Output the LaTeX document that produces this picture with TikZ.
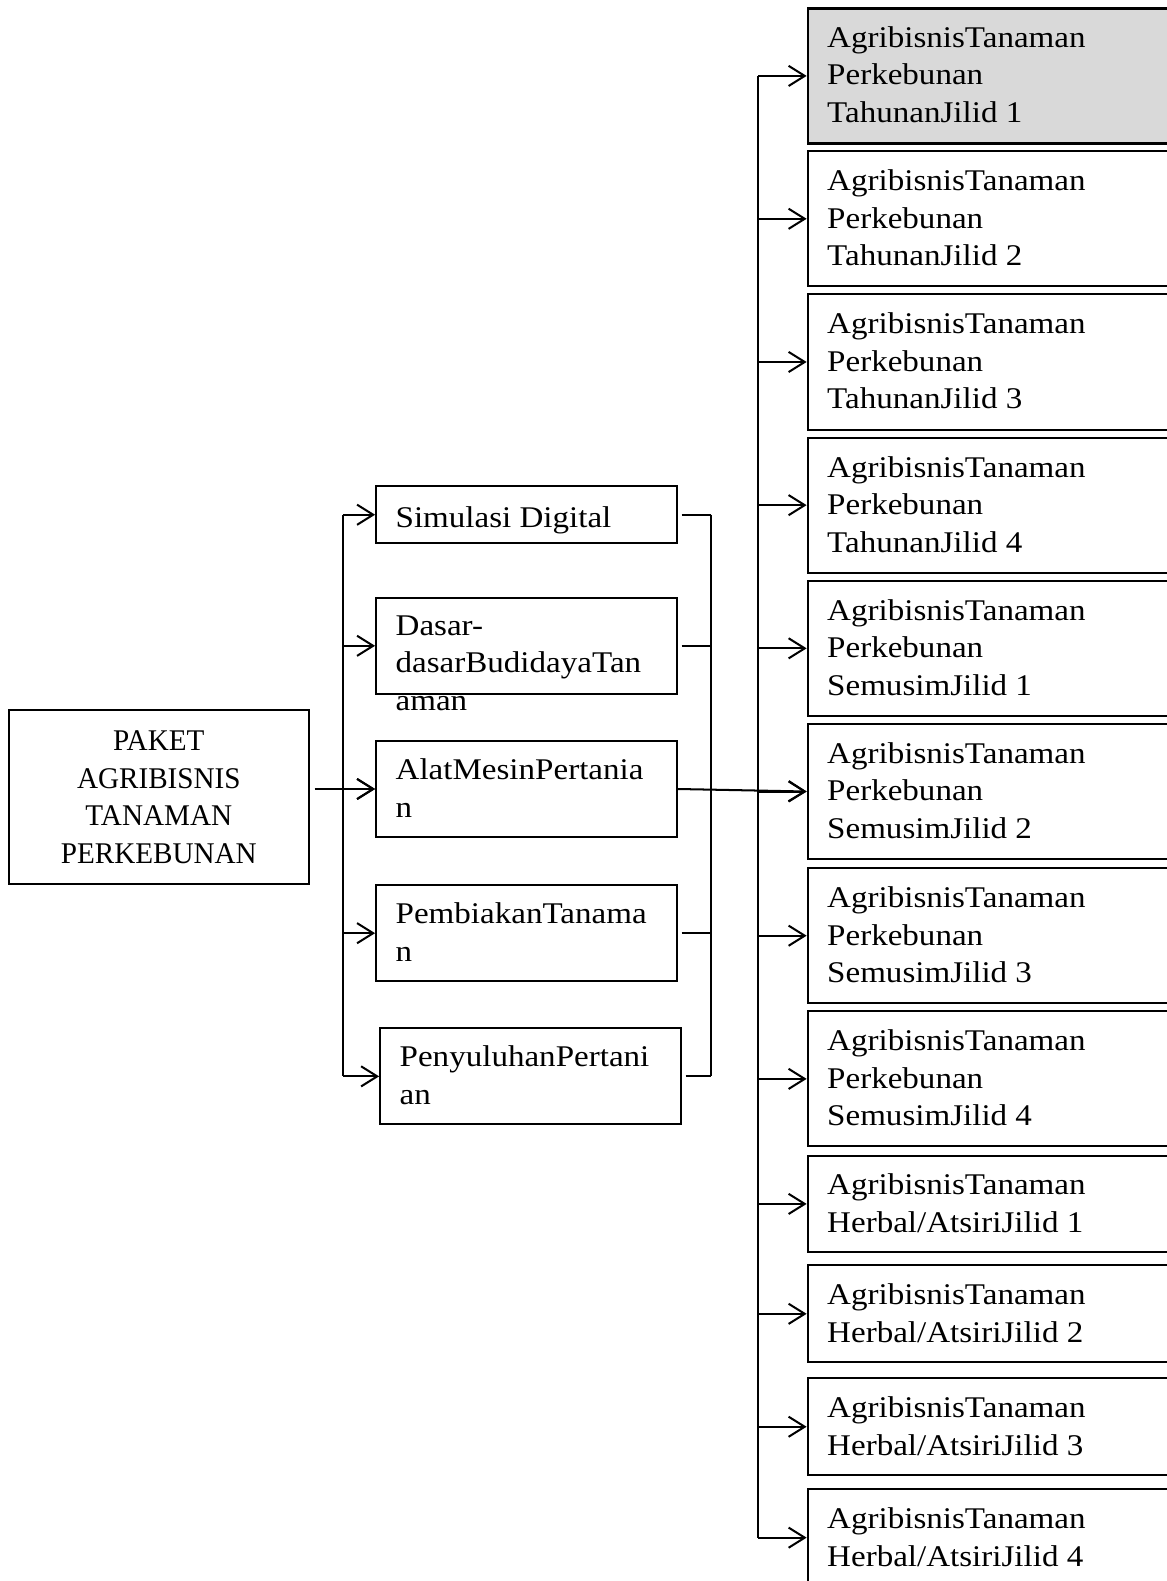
\documentclass[tikz,border=0pt]{standalone}
\usepackage{fontspec}
\setmainfont{Liberation Serif}[FakeStretch=1.1]
\newfontfamily\capsfont{Liberation Serif}[FakeStretch=0.97]
\usetikzlibrary{arrows.meta}
\newcommand{\mainsz}{\fontsize{14.9pt}{18.6pt}\selectfont}
\definecolor{shade}{RGB}{217,217,217}
\tikzset{
  box/.style={draw, line width=1pt, inner sep=0pt, anchor=north west},
  rbox/.style={box, minimum width=182.5pt, minimum height=67pt},
  hbox/.style={box, minimum width=182.5pt, minimum height=48pt},
  mbox/.style={box, minimum width=149pt, minimum height=47.5pt},
  txt/.style={anchor=north west, align=left, inner sep=0pt, font=\mainsz, execute at begin node=\strut},
  con/.style={line width=1pt},
  arr/.style={line width=1pt, -{Straight Barb[length=8pt,width=10pt]}},
}
\begin{document}
\begin{tikzpicture}[x=0.5pt, y=-0.5pt]
\useasboundingbox (0,0) rectangle (1157,1568);

% left box
\node[box, minimum width=148.5pt, minimum height=86.5pt, align=center, font=\mainsz\capsfont] (p) at (8,703) {PAKET\\AGRIBISNIS\\TANAMAN\\PERKEBUNAN};

% middle boxes
\node[box, minimum width=149pt, minimum height=28.5pt] (m1) at (372,481) {};
\node[mbox] (m2) at (372,592) {};
\node[mbox] (m3) at (372,734) {};
\node[mbox] (m4) at (372,877) {};
\node[mbox] (m5) at (376,1019) {};

\node[txt] (tm1) at ([shift={(10pt,-8pt)}]m1.north west) {Simulasi Digital};
\node[txt] (tm2) at ([shift={(10pt,-9pt)}]m2.north west) {Dasar-\\dasarBudidayaTan\\aman};
\node[txt] (tm3) at ([shift={(10pt,-9pt)}]m3.north west) {AlatMesinPertania\\n};
\node[txt] (tm4) at ([shift={(10pt,-9pt)}]m4.north west) {PembiakanTanama\\n};
\node[txt] (tm5) at ([shift={(10pt,-9pt)}]m5.north west) {PenyuluhanPertani\\an};

% right boxes
\node[rbox, fill=shade, line width=1.3pt] (r1) at (800,7) {};
\node[rbox] (r2) at (800,149) {};
\node[rbox] (r3) at (800,291) {};
\node[rbox] (r4) at (800,433) {};
\node[rbox] (r5) at (800,575) {};
\node[rbox] (r6) at (800,717) {};
\node[rbox] (r7) at (800,860) {};
\node[rbox] (r8) at (800,1002) {};
\node[hbox] (r9) at (800,1145) {};
\node[hbox] (r10) at (800,1254) {};
\node[hbox] (r11) at (800,1366) {};
\node[hbox] (r12) at (800,1476) {};

\node[txt] (tr1) at ([shift={(10pt,-9.5pt)}]r1.north west) {AgribisnisTanaman\\Perkebunan\\TahunanJilid 1};
\node[txt] (tr2) at ([shift={(10pt,-9.5pt)}]r2.north west) {AgribisnisTanaman\\Perkebunan\\TahunanJilid 2};
\node[txt] (tr3) at ([shift={(10pt,-9.5pt)}]r3.north west) {AgribisnisTanaman\\Perkebunan\\TahunanJilid 3};
\node[txt] (tr4) at ([shift={(10pt,-9.5pt)}]r4.north west) {AgribisnisTanaman\\Perkebunan\\TahunanJilid 4};
\node[txt] (tr5) at ([shift={(10pt,-9.5pt)}]r5.north west) {AgribisnisTanaman\\Perkebunan\\SemusimJilid 1};
\node[txt] (tr6) at ([shift={(10pt,-9.5pt)}]r6.north west) {AgribisnisTanaman\\Perkebunan\\SemusimJilid 2};
\node[txt] (tr7) at ([shift={(10pt,-9.5pt)}]r7.north west) {AgribisnisTanaman\\Perkebunan\\SemusimJilid 3};
\node[txt] (tr8) at ([shift={(10pt,-9.5pt)}]r8.north west) {AgribisnisTanaman\\Perkebunan\\SemusimJilid 4};
\node[txt] (tr9) at ([shift={(10pt,-9.5pt)}]r9.north west) {AgribisnisTanaman\\Herbal/AtsiriJilid 1};
\node[txt] (tr10) at ([shift={(10pt,-9.5pt)}]r10.north west) {AgribisnisTanaman\\Herbal/AtsiriJilid 2};
\node[txt] (tr11) at ([shift={(10pt,-9.5pt)}]r11.north west) {AgribisnisTanaman\\Herbal/AtsiriJilid 3};
\node[txt] (tr12) at ([shift={(10pt,-9.5pt)}]r12.north west) {AgribisnisTanaman\\Herbal/AtsiriJilid 4};

% trunk coordinates
\coordinate (tM) at (340,0);
\coordinate (tC) at (705,0);
\coordinate (tR) at (752,0);

% PAKET -> middle
\draw[arr] ([xshift=2.5pt]p.east |- m3.west) -- (m3.west);
\draw[con] (tM |- m1.west) -- (tM |- m5.west);
\foreach \m in {m1,m2,m3,m4,m5}{
  \draw[arr] (tM |- \m.west) -- (\m.west);
}

% middle -> collector
\draw[con] ([xshift=2pt]m1.east) -- (tC |- m1.east);
\draw[con] ([xshift=2pt]m2.east) -- (tC |- m2.east);
\draw[con] ([xshift=2pt]m4.east) -- (tC |- m4.east);
\draw[con] ([xshift=2pt]m5.east) -- (tC |- m5.east);
\draw[con] (tC |- m1.east) -- (tC |- m5.east);
\draw[arr] (m3.east) -- (r6.west);

% right trunk
\draw[con] (tR |- r1.west) -- (tR |- r12.west);
\foreach \r in {r1,r2,r3,r4,r5,r6,r7,r8,r9,r10,r11,r12}{
  \draw[arr] (tR |- \r.west) -- (\r.west);
}
\end{tikzpicture}
\end{document}
